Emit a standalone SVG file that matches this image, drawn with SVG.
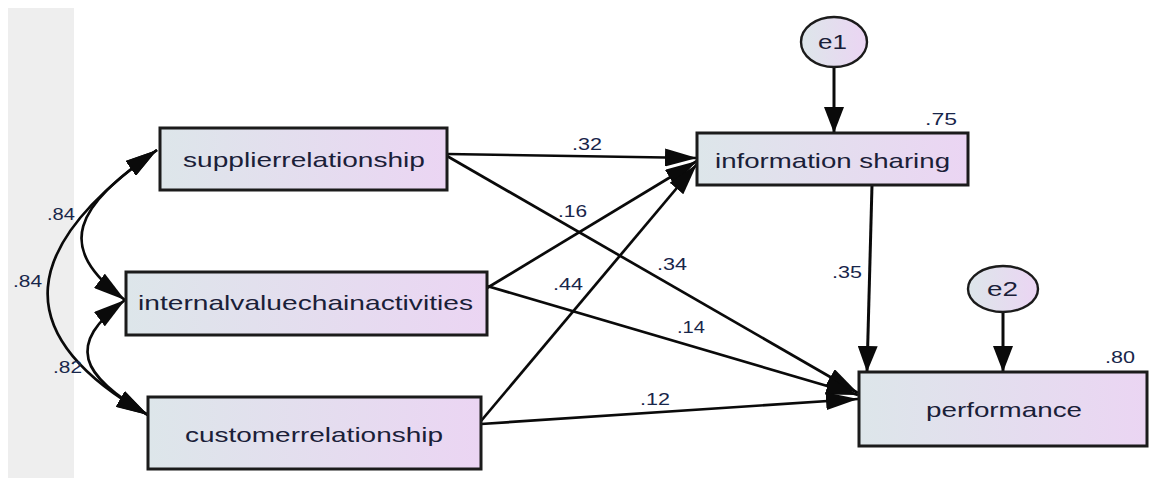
<svg xmlns="http://www.w3.org/2000/svg" width="1149" height="478" viewBox="0 0 1149 478">
  <defs>
    <linearGradient id="fillGrad" x1="0" y1="0" x2="1" y2="0">
      <stop offset="0" stop-color="#dde6ea"/>
      <stop offset="1" stop-color="#ebd5f3"/>
    </linearGradient>
    <!-- long, narrow head for mostly-horizontal paths -->
    <marker id="headH" viewBox="0 0 32 18" refX="32" refY="9" markerWidth="32" markerHeight="18" markerUnits="userSpaceOnUse" orient="auto-start-reverse">
      <path d="M0,0 L32,9 L0,18 Z" fill="#0a0a0a"/>
    </marker>
    <!-- shorter, wider head for vertical paths -->
    <marker id="headV" viewBox="0 0 26 20" refX="26" refY="10" markerWidth="26" markerHeight="20" markerUnits="userSpaceOnUse" orient="auto-start-reverse">
      <path d="M0,0 L26,10 L0,20 Z" fill="#0a0a0a"/>
    </marker>
  </defs>
  <style>
    .box { fill: url(#fillGrad); stroke: #1b1b1b; stroke-width: 3; }
    .err { fill: url(#fillGrad); stroke: #1b1b1b; stroke-width: 2.4; }
    .lbl { font-family: "Liberation Sans", Arial, sans-serif; font-size: 21px; fill: #1a2038; }
    .num { font-family: "Liberation Sans", Arial, sans-serif; font-size: 17px; fill: #18264a; }
    .path { fill: none; stroke: #0a0a0a; stroke-width: 2.7; marker-end: url(#headH); }
    .pathV { fill: none; stroke: #0a0a0a; stroke-width: 3; marker-end: url(#headV); }
    .cov { fill: none; stroke: #0a0a0a; stroke-width: 2.7; marker-start: url(#headH); marker-end: url(#headH); }
  </style>

  <rect x="0" y="0" width="1149" height="478" fill="#ffffff"/>
  <!-- side panel -->
  <rect x="8" y="8" width="66" height="470" fill="#eeeeee"/>

  <g id="connectors">
    <!-- covariances -->
    <path class="cov" d="M157,150 C75,207 53,246 125,300"/>
    <path class="cov" d="M157,150 C22,245 4,333 148,415"/>
    <path class="cov" d="M125,300 C65,345 80,375 148,415"/>
    <!-- regression paths -->
    <path class="path" d="M447,154 L697,158"/>
    <path class="path" d="M487,288 L697,161"/>
    <path class="path" d="M481,421 L697,164"/>
    <path class="path" d="M447,156 L858,393"/>
    <path class="path" d="M487,286 L858,395"/>
    <path class="path" d="M481,424 L858,399"/>
    <path class="pathV" d="M872,185 L867,372"/>
    <path class="pathV" d="M834,67 L834,133"/>
    <path class="pathV" d="M1003,312 L1003,372"/>
  </g>

  <g id="labels">
    <text class="num" x="47" y="220" textLength="28" lengthAdjust="spacingAndGlyphs">.84</text>
    <text class="num" x="13" y="287" textLength="29" lengthAdjust="spacingAndGlyphs">.84</text>
    <text class="num" x="53" y="373" textLength="29" lengthAdjust="spacingAndGlyphs">.82</text>
    <text class="num" x="572" y="150" textLength="30" lengthAdjust="spacingAndGlyphs">.32</text>
    <text class="num" x="558" y="217" textLength="29" lengthAdjust="spacingAndGlyphs">.16</text>
    <text class="num" x="657" y="270" textLength="30" lengthAdjust="spacingAndGlyphs">.34</text>
    <text class="num" x="553" y="290" textLength="30" lengthAdjust="spacingAndGlyphs">.44</text>
    <text class="num" x="677" y="333" textLength="28" lengthAdjust="spacingAndGlyphs">.14</text>
    <text class="num" x="640" y="405" textLength="30" lengthAdjust="spacingAndGlyphs">.12</text>
    <text class="num" x="832" y="278" textLength="30" lengthAdjust="spacingAndGlyphs">.35</text>
    <text class="num" x="925" y="125" textLength="32" lengthAdjust="spacingAndGlyphs">.75</text>
    <text class="num" x="1105" y="363" textLength="30" lengthAdjust="spacingAndGlyphs">.80</text>
  </g>

  <g id="supplierrelationship">
    <rect class="box" x="160" y="128" width="287" height="62"/>
    <text class="lbl" x="183" y="167" textLength="242" lengthAdjust="spacingAndGlyphs">supplierrelationship</text>
  </g>
  <g id="internalvaluechainactivities">
    <rect class="box" x="126" y="272" width="361" height="63"/>
    <text class="lbl" x="138" y="310" textLength="335" lengthAdjust="spacingAndGlyphs">internalvaluechainactivities</text>
  </g>
  <g id="customerrelationship">
    <rect class="box" x="148" y="397" width="333" height="72"/>
    <text class="lbl" x="185" y="442" textLength="258" lengthAdjust="spacingAndGlyphs">customerrelationship</text>
  </g>
  <g id="information-sharing">
    <rect class="box" x="697" y="133" width="271" height="52"/>
    <text class="lbl" x="715" y="168" textLength="235" lengthAdjust="spacingAndGlyphs">information sharing</text>
  </g>
  <g id="performance">
    <rect class="box" x="859" y="372" width="288" height="74"/>
    <text class="lbl" x="926" y="417" textLength="156" lengthAdjust="spacingAndGlyphs">performance</text>
  </g>
  <g id="e1">
    <ellipse class="err" cx="834" cy="42" rx="33" ry="25"/>
    <text class="lbl" x="818" y="49" textLength="29" lengthAdjust="spacingAndGlyphs">e1</text>
  </g>
  <g id="e2">
    <ellipse class="err" cx="1003" cy="289" rx="35" ry="23"/>
    <text class="lbl" x="987" y="296" textLength="31" lengthAdjust="spacingAndGlyphs">e2</text>
  </g>
</svg>
